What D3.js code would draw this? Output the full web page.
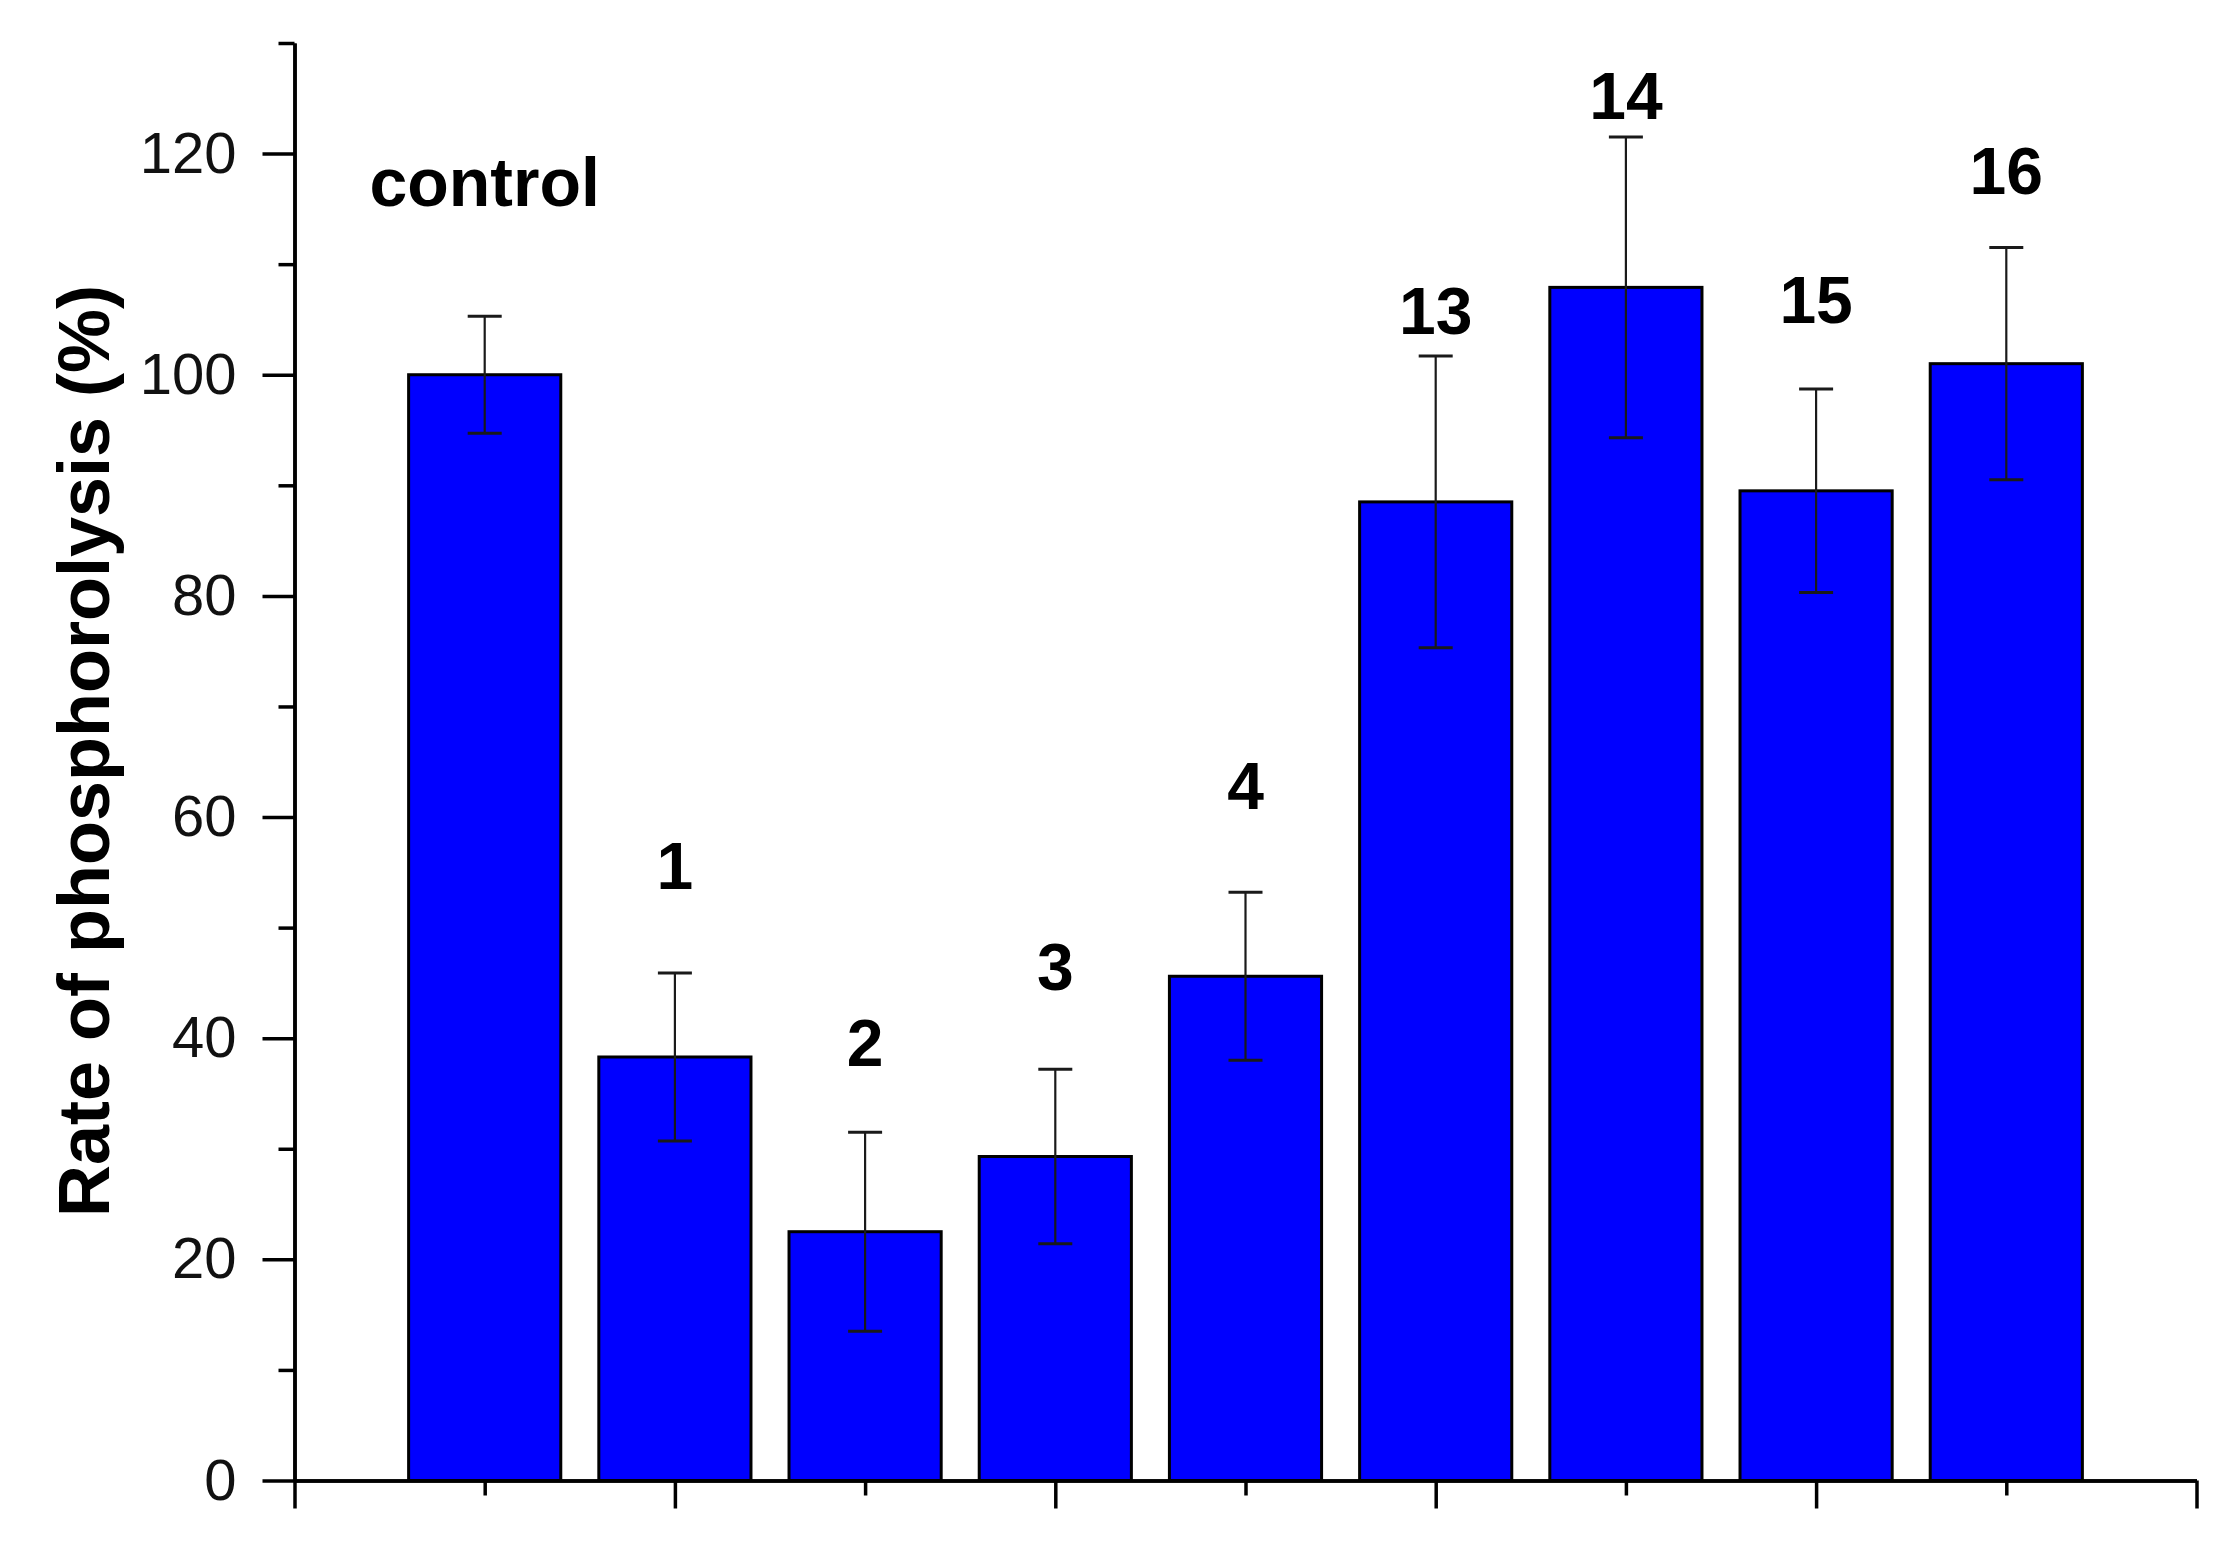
<!DOCTYPE html>
<html>
<head>
<meta charset="utf-8">
<script src="https://cdn.jsdelivr.net/npm/d3@7"></script>
<style>
  html, body { margin: 0; padding: 0; background: #fff; }
  svg { display: block; }
</style>
</head>
<body>
<svg id="chart" width="2230" height="1547"></svg>
<script>
// ---- data ----
const categories = ["control", "1", "2", "3", "4", "13", "14", "15", "16"];
const values     = [100.0, 38.3, 22.5, 29.3, 45.6, 88.5, 107.9, 89.5, 101.0];
const errors     = [5.3, 7.6, 9.0, 7.9, 7.6, 13.2, 13.6, 9.2, 10.5];
// height (in % units) at which each bar's name is written
const labelValues = [115.3, 53.5, 37.5, 44.4, 60.7, 103.7, 123.1, 104.7, 116.3];
const yMajorTicks = [0, 20, 40, 60, 80, 100, 120];
const yMinorTicks = [10, 30, 50, 70, 90, 110, 130];
const xMajorTicks = [0, 2, 4, 6, 8, 10];
const xMinorTicks = [1, 3, 5, 7, 9];
const yTitle = "Rate of phosphorolysis (%)";

// ---- layout ----
const svg = d3.select("#chart");
svg.append("rect").attr("width", 2230).attr("height", 1547).attr("fill", "#fff");

const x = d3.scaleLinear().domain([0, 10]).range([294.5, 2196.5]);
const y = d3.scaleLinear().domain([0, 130]).range([1480.5, 43]);
const barW = x(0.8) - x(0);

const data = categories.map((c, i) => ({
  name: c, pos: i + 1, v: values[i], e: errors[i], lv: labelValues[i]
}));

// bars
svg.append("g").selectAll("rect").data(data).join("rect")
  .attr("x", d => x(d.pos) - barW / 2)
  .attr("y", d => y(d.v))
  .attr("width", barW)
  .attr("height", d => y(0) - y(d.v))
  .attr("fill", "#0000ff")
  .attr("stroke", "#000")
  .attr("stroke-width", 3);

// error bars
const eg = svg.append("g").attr("stroke", "#1a1a1a").attr("stroke-width", 2.2);
const capW = 34;
data.forEach(d => {
  eg.append("line").attr("x1", x(d.pos)).attr("x2", x(d.pos))
    .attr("y1", y(d.v + d.e)).attr("y2", y(d.v - d.e));
  [d.v + d.e, d.v - d.e].forEach(t => {
    eg.append("line").attr("x1", x(d.pos) - capW / 2).attr("x2", x(d.pos) + capW / 2)
      .attr("y1", y(t)).attr("y2", y(t)).attr("stroke-width", 3);
  });
});

// bar labels
svg.append("g").selectAll("text").data(data).join("text")
  .attr("x", d => x(d.pos))
  .attr("y", d => y(d.lv))
  .attr("text-anchor", "middle")
  .attr("font-family", "'Liberation Sans', Arial, sans-serif")
  .attr("font-weight", "bold")
  .attr("font-size", d => d.name === "control" ? 68 : 66)
  .attr("fill", "#000")
  .text(d => d.name);

// axes
const axisStyle = g => {
  g.selectAll("path, line").attr("stroke", "#000").attr("stroke-width", 3.5);
  g.selectAll("text").attr("font-family", "'Liberation Sans', Arial, sans-serif")
    .attr("font-size", 58).attr("fill", "#111");
};

svg.append("g").attr("transform", `translate(${x(0)},0)`)
  .call(d3.axisLeft(y).tickValues(yMinorTicks).tickSize(16).tickSizeOuter(0).tickFormat(""))
  .call(axisStyle);
svg.append("g").attr("transform", `translate(${x(0)},0)`)
  .call(d3.axisLeft(y).tickValues(yMajorTicks).tickSize(32).tickSizeOuter(0).tickPadding(26))
  .call(axisStyle);

svg.append("g").attr("transform", `translate(0,${y(0)})`)
  .call(d3.axisBottom(x).tickValues(xMinorTicks).tickSize(15).tickSizeOuter(0).tickFormat(""))
  .call(axisStyle);
svg.append("g").attr("transform", `translate(0,${y(0)})`)
  .call(d3.axisBottom(x).tickValues(xMajorTicks).tickSize(28).tickSizeOuter(0).tickFormat(""))
  .call(axisStyle);

// y title
svg.append("text")
  .attr("transform", "translate(109,751) rotate(-90)")
  .attr("text-anchor", "middle")
  .attr("font-family", "'Liberation Sans', Arial, sans-serif")
  .attr("font-weight", "bold")
  .attr("font-size", 72)
  .attr("fill", "#000")
  .text(yTitle);
</script>
</body>
</html>
